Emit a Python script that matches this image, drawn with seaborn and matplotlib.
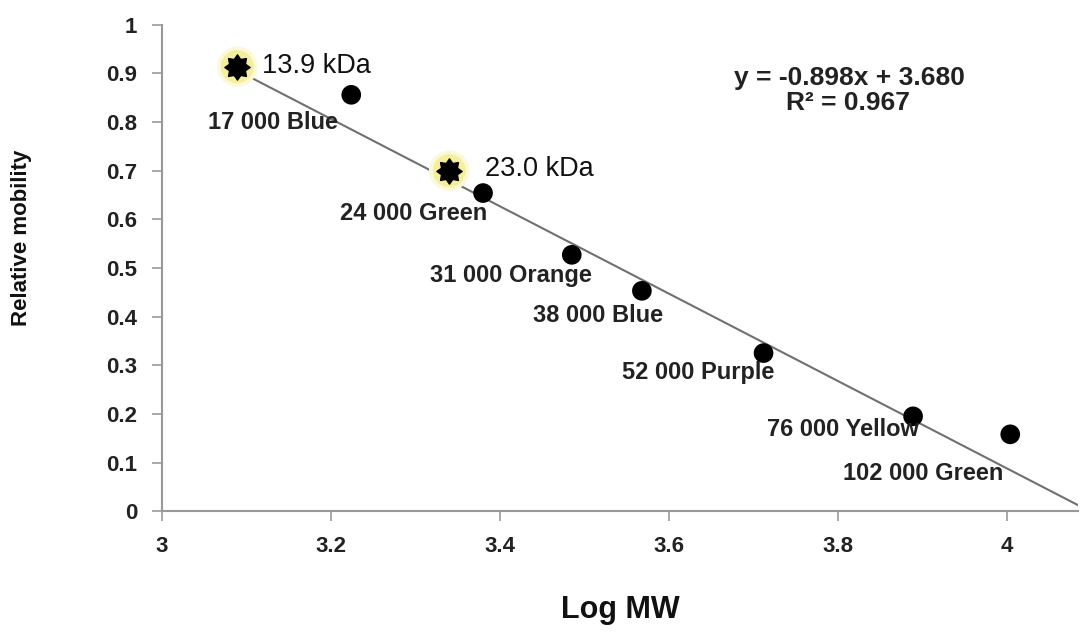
import numpy as np
import pandas as pd
import matplotlib
matplotlib.use("Agg")
import matplotlib.pyplot as plt
from matplotlib.path import Path
import seaborn as sns

# === Data ===
log_mw = [3.224, 3.380, 3.485, 3.568, 3.712, 3.889, 4.004]
mobility = [0.856, 0.654, 0.527, 0.453, 0.325, 0.195, 0.158]
marker_names = ["17 000 Blue", "24 000 Green", "31 000 Orange", "38 000 Blue",
                "52 000 Purple", "76 000 Yellow", "102 000 Green"]

unknown_logmw = [3.089, 3.340]
unknown_mobility = [0.914, 0.700]
unknown_names = ["13.9 kDa", "23.0 kDa"]

slope = -0.898
intercept = 3.680
r_squared = 0.967

x_ticks = [3, 3.2, 3.4, 3.6, 3.8, 4]
x_tick_labels = ["3", "3.2", "3.4", "3.6", "3.8", "4"]
y_ticks = [0, 0.1, 0.2, 0.3, 0.4, 0.5, 0.6, 0.7, 0.8, 0.9, 1]
y_tick_labels = ["0", "0.1", "0.2", "0.3", "0.4", "0.5", "0.6", "0.7", "0.8", "0.9", "1"]

# label anchor positions (left edge, vertical centre) in data coords
name_pos = [(3.054, 0.800), (3.211, 0.611), (3.317, 0.484), (3.439, 0.403),
            (3.544, 0.286), (3.716, 0.167), (3.806, 0.078)]
unknown_pos = [(3.118, 0.916), (3.382, 0.704)]

# === Setup ===
sns.set_style("ticks")
plt.rcParams["font.family"] = ["Liberation Sans", "DejaVu Sans"]

markers = pd.DataFrame({"log_mw": log_mw, "mobility": mobility, "name": marker_names})
unknowns = pd.DataFrame({"log_mw": unknown_logmw, "mobility": unknown_mobility, "name": unknown_names})

# chunky 8-point star marker
ang = np.linspace(0, 2 * np.pi, 17)[:-1] + np.pi / 2
rad = np.where(np.arange(16) % 2 == 0, 1.0, 0.68)
verts = np.column_stack([rad * np.cos(ang), rad * np.sin(ang)])
verts = np.vstack([verts, verts[:1]])
star = Path(verts, [Path.MOVETO] + [Path.LINETO] * 15 + [Path.CLOSEPOLY])

fig = plt.figure(figsize=(10.8, 6.35), dpi=100)
ax = fig.add_axes([0.15, 0.195, 0.848, 0.766])

# === Trend line ===
x_end = -intercept / slope
fit_x = np.array([unknown_logmw[0], x_end])
fit_y = slope * fit_x + intercept
ax.plot(fit_x, fit_y, color="#707070", lw=1.5, zorder=2)

# === Standards ===
sns.scatterplot(data=markers, x="log_mw", y="mobility", ax=ax, s=200,
                color="black", edgecolor="none", zorder=4, legend=False)

# === Unknown bands (star with glow) ===
ax.scatter(unknowns["log_mw"], unknowns["mobility"], s=850, color="#fcf9d8",
           edgecolor="none", zorder=3)
ax.scatter(unknowns["log_mw"], unknowns["mobility"], s=560, color="#f5ee9c",
           edgecolor="none", zorder=3)
ax.scatter(unknowns["log_mw"], unknowns["mobility"], s=330, marker=star,
           color="black", edgecolor="black", zorder=5)

for (px, py), name in zip(name_pos, marker_names):
    ax.text(px, py, name, fontsize=17, fontweight="bold", color="#222222",
            ha="left", va="center", zorder=6)

for (px, py), name in zip(unknown_pos, unknown_names):
    ax.text(px, py, name, fontsize=19.5, color="#111111",
            ha="left", va="center", zorder=6)

ax.text(3.814, 0.891, f"y = {slope:.3f}x + {intercept:.3f}", fontsize=19,
        fontweight="bold", color="#222222", ha="center", va="center")
ax.text(3.812, 0.840, f"R² = {r_squared:.3f}", fontsize=19,
        fontweight="bold", color="#222222", ha="center", va="center")

# === Axes ===
ax.set_xlim(3, 4.084)
ax.set_ylim(0, 1)
ax.set_xticks(x_ticks)
ax.set_xticklabels(x_tick_labels)
ax.set_yticks(y_ticks)
ax.set_yticklabels(y_tick_labels)
for lab in ax.get_xticklabels() + ax.get_yticklabels():
    lab.set_fontweight("bold")
ax.tick_params(axis="both", colors="#999999", length=7, width=1.2,
               labelsize=16, labelcolor="#222222")
ax.tick_params(axis="y", pad=11)
ax.tick_params(axis="x", pad=11)

sns.despine(ax=ax)
for side in ["left", "bottom"]:
    ax.spines[side].set_color("#999999")
    ax.spines[side].set_linewidth(1.5)

ax.set_xlabel("Log MW", fontsize=22, fontweight="bold", color="#111111")
ax.xaxis.set_label_coords(0.5, -0.204)
ax.xaxis.label.set_va("center")
ax.set_ylabel("Relative mobility", fontsize=16, fontweight="bold", color="#111111")
ax.yaxis.set_label_coords(-0.153, 0.562)
ax.yaxis.label.set_va("center")
ax.grid(False)

fig.savefig("out.png", dpi=100)
plt.close(fig)
